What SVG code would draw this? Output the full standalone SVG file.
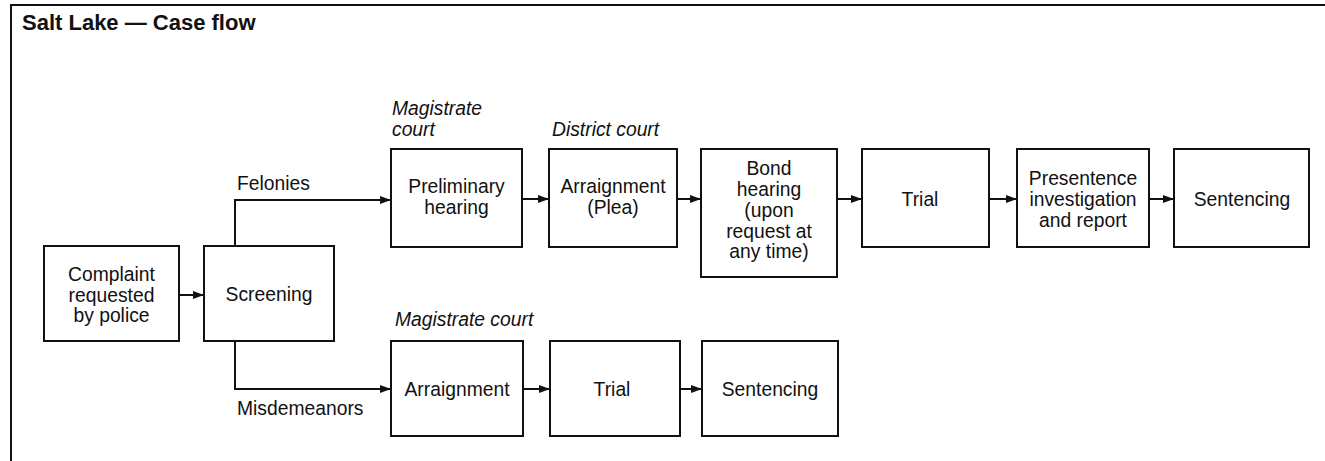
<svg xmlns="http://www.w3.org/2000/svg" width="1325" height="461" viewBox="0 0 1325 461">
<style>
.box{fill:#fff;stroke:#111;stroke-width:2}
.t{font-family:"Liberation Sans",Arial,sans-serif;font-size:19.3px;fill:#111;text-anchor:middle}
.lbl{font-family:"Liberation Sans",Arial,sans-serif;font-size:19.3px;fill:#111}
.it{font-family:"Liberation Sans",Arial,sans-serif;font-size:19.3px;font-style:italic;fill:#111}
.ttl{font-family:"Liberation Sans",Arial,sans-serif;font-size:22px;font-weight:bold;fill:#111}
.c{fill:none;stroke:#111;stroke-width:2}
</style>
<defs>
<marker id="ah" markerWidth="11" markerHeight="8" refX="10" refY="4" orient="auto" markerUnits="userSpaceOnUse">
<path d="M0,0 L11,4 L0,8 Z" fill="#111"/>
</marker>
</defs>
<rect width="1325" height="461" fill="#fff"/>
<path d="M11,461 V5 H1325" fill="none" stroke="#111" stroke-width="2"/>
<text class="ttl" x="22" y="30">Salt Lake — Case flow</text>

<text class="it" x="392" y="115">Magistrate</text>
<text class="it" x="392" y="136">court</text>
<text class="it" x="552" y="136">District court</text>
<text class="it" x="395" y="326">Magistrate court</text>
<text class="lbl" x="237" y="190">Felonies</text>
<text class="lbl" x="237" y="415">Misdemeanors</text>

<g id="connectors">
<path class="c" d="M179,295 H203" marker-end="url(#ah)"/>
<path class="c" d="M235,246 V200 H390" marker-end="url(#ah)"/>
<path class="c" d="M235,341 V389 H390" marker-end="url(#ah)"/>
<path class="c" d="M522,199 H548" marker-end="url(#ah)"/>
<path class="c" d="M677,199 H700" marker-end="url(#ah)"/>
<path class="c" d="M837,199 H861" marker-end="url(#ah)"/>
<path class="c" d="M989,199 H1016" marker-end="url(#ah)"/>
<path class="c" d="M1149,199 H1173" marker-end="url(#ah)"/>
<path class="c" d="M523,389 H549" marker-end="url(#ah)"/>
<path class="c" d="M680,389 H701" marker-end="url(#ah)"/>
</g>

<g id="complaint">
<rect class="box" x="44" y="246" width="135" height="95"/>
<text class="t" x="111.5" y="281">Complaint</text>
<text class="t" x="111.5" y="302">requested</text>
<text class="t" x="111.5" y="322">by police</text>
</g>
<g id="screening">
<rect class="box" x="204" y="246" width="130" height="95"/>
<text class="t" x="269" y="301">Screening</text>
</g>
<g id="preliminary">
<rect class="box" x="391" y="149" width="131" height="98"/>
<text class="t" x="456.5" y="193">Preliminary</text>
<text class="t" x="456.5" y="214">hearing</text>
</g>
<g id="arraignment-plea">
<rect class="box" x="549" y="149" width="128" height="98"/>
<text class="t" x="613" y="193">Arraignment</text>
<text class="t" x="613" y="214">(Plea)</text>
</g>
<g id="bond">
<rect class="box" x="701" y="149" width="136" height="128"/>
<text class="t" x="769" y="175">Bond</text>
<text class="t" x="769" y="196">hearing</text>
<text class="t" x="769" y="217">(upon</text>
<text class="t" x="769" y="238">request at</text>
<text class="t" x="769" y="258">any time)</text>
</g>
<g id="trial-f">
<rect class="box" x="862" y="149" width="127" height="98"/>
<text class="t" x="920" y="206">Trial</text>
</g>
<g id="presentence">
<rect class="box" x="1017" y="149" width="132" height="98"/>
<text class="t" x="1083" y="185">Presentence</text>
<text class="t" x="1083" y="206">investigation</text>
<text class="t" x="1083" y="227">and report</text>
</g>
<g id="sentencing-f">
<rect class="box" x="1174" y="149" width="135" height="98"/>
<text class="t" x="1242" y="206">Sentencing</text>
</g>
<g id="arraignment-m">
<rect class="box" x="391" y="341" width="132" height="95"/>
<text class="t" x="457" y="396">Arraignment</text>
</g>
<g id="trial-m">
<rect class="box" x="550" y="341" width="130" height="95"/>
<text class="t" x="612" y="396">Trial</text>
</g>
<g id="sentencing-m">
<rect class="box" x="702" y="341" width="136" height="95"/>
<text class="t" x="770" y="396">Sentencing</text>
</g>
</svg>
